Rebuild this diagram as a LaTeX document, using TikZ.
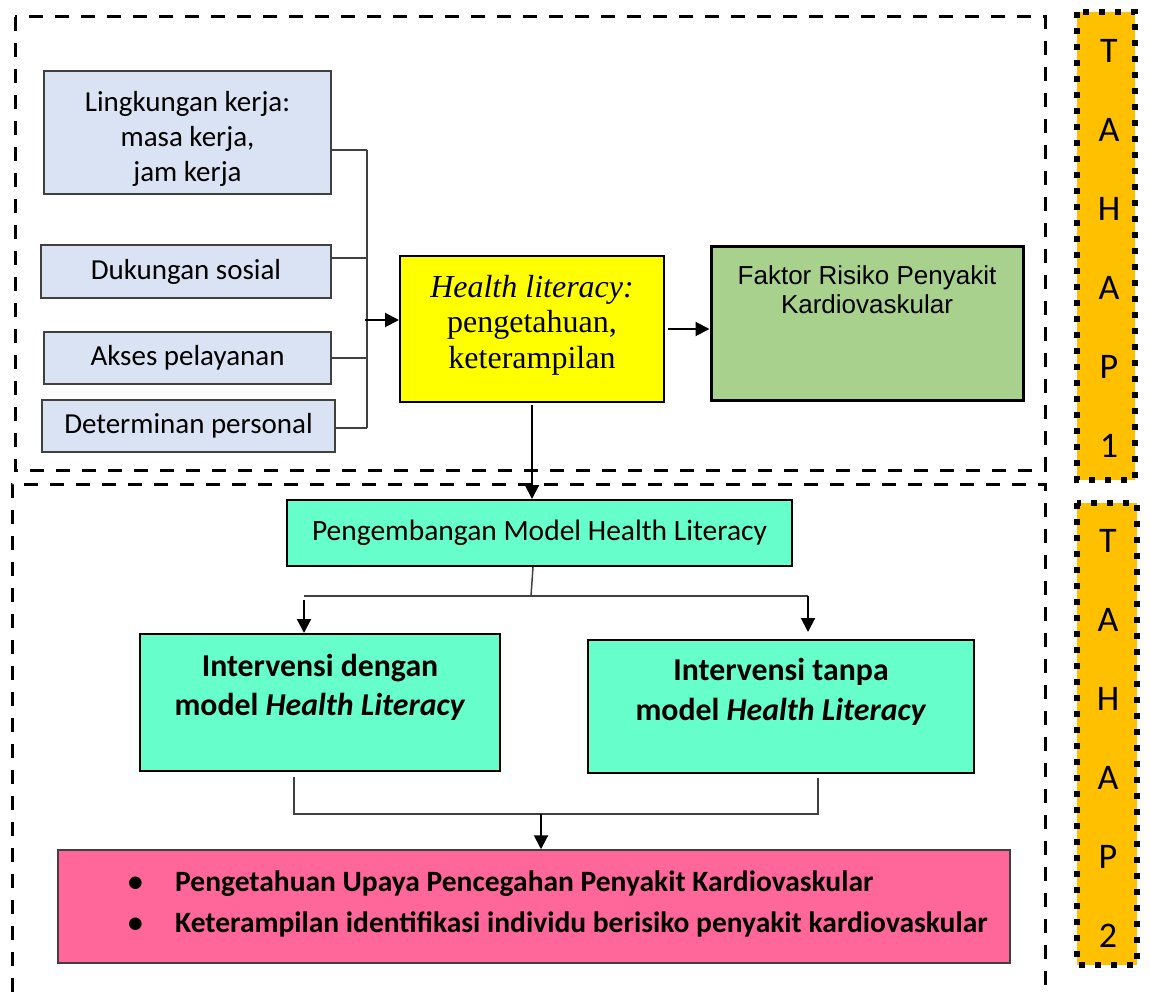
\documentclass[tikz,border=0pt]{standalone}
\usepackage{fontspec}
\setmainfont{Carlito}
\newfontfamily\timesf{Liberation Serif}
\newfontfamily\arialf{Liberation Sans}
\usetikzlibrary{arrows.meta}
\definecolor{boxblue}{HTML}{DAE3F3}
\definecolor{hlyellow}{HTML}{FFFF00}
\definecolor{riskgreen}{HTML}{A9D18E}
\definecolor{mint}{HTML}{66FFCC}
\definecolor{pinkbox}{HTML}{FF6699}
\definecolor{tahapfill}{HTML}{FFC000}
\definecolor{edgegray}{HTML}{404040}
\tikzset{
  factor/.style={draw=edgegray, line width=1.5pt, fill=boxblue, inner sep=0pt, align=center, font=\fontsize{29}{35}\selectfont},
  hlbox/.style={draw=black, line width=2pt, fill=hlyellow, inner sep=0pt},
  riskbox/.style={draw=black, line width=3pt, fill=riskgreen, inner sep=0pt},
  mintbox/.style={draw=black, line width=2pt, fill=mint, inner sep=0pt, align=center},
  outbox/.style={draw=edgegray, line width=1.5pt, fill=pinkbox, inner sep=0pt},
  txt/.style={inner sep=0pt, align=center},
  conn/.style={draw=edgegray, line width=1.5pt},
  arr/.style={draw=black, line width=2pt, -{Triangle[length=14pt,width=14pt]}},
  dashbox/.style={draw=black, line width=3pt, dash pattern=on 14pt off 12pt},
  tahapbox/.style={draw=black, fill=tahapfill, line width=6pt, dash pattern=on 6pt off 10pt},
  tahaptext/.style={inner sep=0pt, align=center, font=\fontsize{36}{79}\selectfont},
}
\begin{document}
\begin{tikzpicture}[x=1pt,y=-1pt]
\useasboundingbox (0,0) rectangle (1150,992);
% phase frames
\draw[dashbox] (15,17) rectangle (1045,470);
\draw[dashbox] (12,992) -- (12,484) -- (1045,484) -- (1045,992);
% TAHAP labels
\path[tahapbox] (1077,12) rectangle (1135,480);
\node[tahaptext] (t1) at (1109,248) {T\\A\\H\\A\\P\\1};
\path[tahapbox] (1077,503) rectangle (1137,965);
\node[tahaptext] (t2) at (1108,738) {T\\A\\H\\A\\P\\2};
% factor boxes
\node[factor, minimum width=287pt, minimum height=123pt] (ling) at (187.5,132.5) {};
\node[txt, font=\fontsize{29}{35}\selectfont] (lingtxt) at (187.5,138.5) {Lingkungan kerja:\\masa kerja,\\jam kerja};
\node[factor, minimum width=290pt, minimum height=53pt] (duk) at (186,271.5) {Dukungan sosial};
\node[factor, minimum width=287pt, minimum height=52pt] (aks) at (187.5,358) {Akses pelayanan};
\node[factor, minimum width=293pt, minimum height=52pt] (det) at (188.5,426) {Determinan personal};
% health literacy
\node[hlbox, minimum width=264pt, minimum height=146pt] (hl) at (532,329) {};
\node[txt, font=\timesf\fontsize{32}{35.5}\selectfont] (hltxt) at (532,325) {{\itshape Health literacy:}\\pengetahuan,\\keterampilan};
% risk factor
\node[riskbox, minimum width=312pt, minimum height=153pt] (risk) at (867,323.5) {};
\node[txt, font=\arialf\fontsize{26}{29}\selectfont] (risktxt) at (867,290) {Faktor Risiko Penyakit\\Kardiovaskular};
% development
\node[mintbox, minimum width=505pt, minimum height=66pt, font=\fontsize{29.5}{35}\selectfont] (dev) at (539.5,533) {Pengembangan Model Health Literacy};
\node[mintbox, minimum width=360pt, minimum height=137pt] (intA) at (320,702.5) {};
\node[txt, font=\bfseries\fontsize{31.8}{39}\selectfont] (intAtxt) at (320,687) {Intervensi dengan\\model \textit{Health Literacy}};
\node[mintbox, minimum width=386pt, minimum height=133pt] (intB) at (781,706.5) {};
\node[txt, font=\bfseries\fontsize{31.8}{40}\selectfont] (intBtxt) at (781,692) {Intervensi tanpa\\model \textit{Health Literacy}};
% outcome
\node[outbox, minimum width=952pt, minimum height=113pt] (out) at (534,906.5) {};
\node[inner sep=0pt, align=left, anchor=west, font=\bfseries\fontsize{29.5}{41}\selectfont] (outtxt) at (128,904) {\makebox[47pt][l]{•}Pengetahuan Upaya Pencegahan Penyakit Kardiovaskular\\\makebox[47pt][l]{•}Keterampilan identifikasi individu berisiko penyakit kardiovaskular};
% bus from factors
\coordinate (b1) at (367,150);
\coordinate (b2) at (367,258);
\coordinate (b3) at (367,358);
\coordinate (b4) at (367,428);
\coordinate (bm) at (365,320);
\draw[conn] (b1) -- (b4);
\draw[conn] (ling.east |- b1) -- (b1);
\draw[conn] (duk.east |- b2) -- (b2);
\draw[conn] (aks.east |- b3) -- (b3);
\draw[conn] (det.east |- b4) -- (b4);
\draw[arr] (bm) -- (bm -| hl.west);
\draw[arr, shorten <=3pt] (hl.east) -- (hl.east -| risk.west);
\draw[arr, shorten <=2pt] (hl.south) -- (hl.south |- dev.north);
% split
\coordinate (sd) at (531,596);
\coordinate (sl) at (304,596);
\coordinate (sr) at (808,596);
\draw[conn] (dev.south -| 533,0) -- (sd);
\draw[conn] (sl) -- (sr);
\draw[arr, shorten <=4pt] (sl) -- (sl |- intA.north);
\draw[arr, shorten >=7pt] (sr) -- (sr |- intB.north);
% merge
\coordinate (ml) at (294,814);
\coordinate (mr) at (818,814);
\coordinate (mm) at (541,814);
\draw[conn] (ml |- 0,777) -- (ml) -- (mr) -- (mr |- 0,778);
\draw[arr] (mm) -- (mm |- out.north);
\end{tikzpicture}
\end{document}
